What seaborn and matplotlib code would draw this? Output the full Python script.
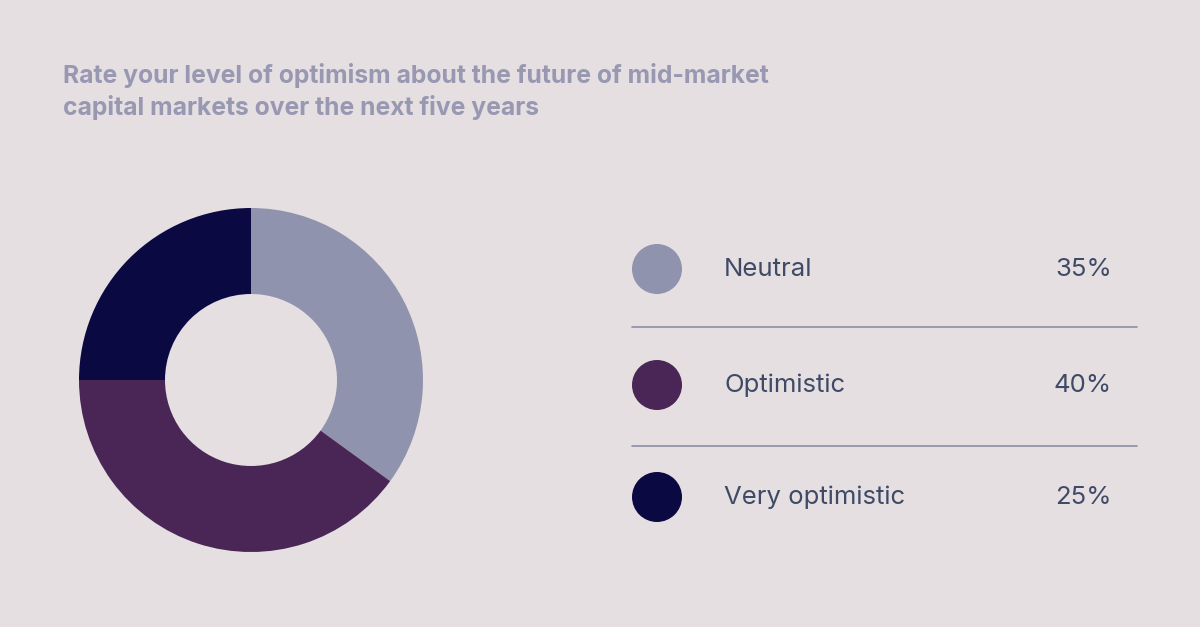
import matplotlib
matplotlib.use("Agg")
import matplotlib.pyplot as plt
import seaborn as sns
import pandas as pd

title_lines = ["Rate your level of optimism about the future of mid-market",
               "capital markets over the next five years"]
categories = ["Neutral", "Optimistic", "Very optimistic"]
values = [35, 40, 25]
pct_labels = ["35%", "40%", "25%"]
colors = ["#9093AD", "#4A2657", "#0B0942"]

BG = "#E5DFE1"
sns.set_theme(style="white")
plt.rcParams["font.family"] = ["Inter", "DejaVu Sans"]

fig = plt.figure(figsize=(12, 6.27), dpi=100)
fig.patch.set_facecolor(BG)

# overlay axes in pixel coordinates
ov = fig.add_axes([0, 0, 1, 1])
ov.set_facecolor("none")

# title
ov.text(63, 76, title_lines[0], fontsize=17.75, fontweight="bold", color="#9898B2",
        va="center", ha="left")
ov.text(63, 108, title_lines[1], fontsize=17.75, fontweight="bold", color="#9898B2",
        va="center", ha="left")

# donut
ax = fig.add_axes([79 / 1200, 75 / 627, 344 / 1200, 344 / 627])
ax.pie(values, colors=colors, startangle=90, counterclock=False, radius=1,
       wedgeprops=dict(width=0.5, edgecolor="none"))
ax.set_xlim(-1, 1)
ax.set_ylim(-1, 1)
ax.set_aspect("equal")
ax.axis("off")

# legend
ys = [269, 385, 497]
df = pd.DataFrame({"x": [657] * 3, "y": ys, "cat": categories})
sns.scatterplot(data=df, x="x", y="y", hue="cat", palette=colors, s=1296,
                linewidth=0, legend=False, ax=ov)
for y, lab, p in zip(ys, categories, pct_labels):
    ov.text(724, y, lab, fontsize=18.5, color="#3F4A66", va="center", ha="left")
    ov.text(1112, y, p, fontsize=18.5, color="#3F4A66", va="center", ha="right")
for y in [327, 446]:
    ov.plot([632, 1137], [y, y], color="#8A8FA5", linewidth=1.2)
ov.set_xlim(0, 1200)
ov.set_ylim(627, 0)
ov.axis("off")

fig.savefig("out.png", dpi=100, facecolor=BG)
